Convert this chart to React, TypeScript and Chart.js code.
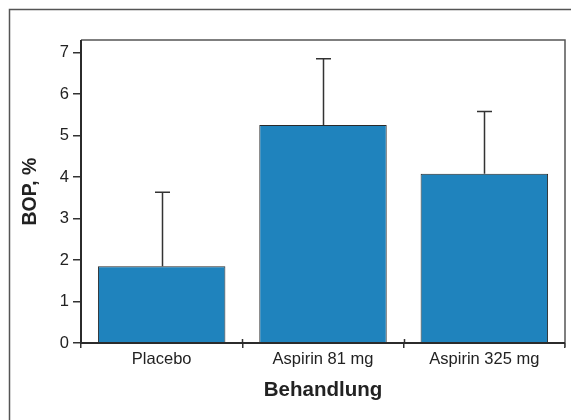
import React, { useEffect, useRef } from 'react';
import { Chart, registerables } from 'chart.js';

Chart.register(...registerables);

const categories = ['Placebo', 'Aspirin 81 mg', 'Aspirin 325 mg'];
const meanValues = [1.85, 5.25, 4.08];
const sdValues = [1.78, 1.6, 1.5];
const yMin = 0;
const yMax = 7.3;
const yStep = 0.5;
const xTitle = 'Behandlung';
const yTitle = 'BOP, %';

const FONT = "'Liberation Sans', Arial, Helvetica, sans-serif";

export default function App() {
  const ref = useRef<HTMLCanvasElement>(null);

  useEffect(() => {
    if (!ref.current) return;

    const frame = {
      id: 'frame',
      beforeDraw(chart: any) {
        const ctx = chart.ctx;
        ctx.save();
        ctx.strokeStyle = '#555';
        ctx.lineWidth = 1.5;
        ctx.strokeRect(9.5, 9.5, 800, 800);
        ctx.restore();
      },
    };

    const errorBars = {
      id: 'errorBars',
      afterDatasetsDraw(chart: any) {
        const ctx = chart.ctx;
        const meta = chart.getDatasetMeta(0);
        const y = chart.scales.y;
        ctx.save();
        ctx.strokeStyle = '#333';
        ctx.lineWidth = 1.5;
        meta.data.forEach((el: any, i: number) => {
          const top = y.getPixelForValue(meanValues[i] + sdValues[i]);
          const x = Math.round(el.x) + 0.5;
          ctx.beginPath();
          ctx.moveTo(x, el.y);
          ctx.lineTo(x, top);
          ctx.moveTo(x - 7.5, top);
          ctx.lineTo(x + 7.5, top);
          ctx.stroke();
        });
        ctx.restore();
      },
    };

    const box = {
      id: 'box',
      afterDraw(chart: any) {
        const ctx = chart.ctx;
        const a = chart.chartArea;
        const y = chart.scales.y;
        const x = chart.scales.x;
        ctx.save();
        // minor y ticks
        ctx.strokeStyle = '#333';
        ctx.lineWidth = 1.5;
        y.ticks.forEach((t: any) => {
          if (!Number.isInteger(t.value)) {
            const py = Math.round(y.getPixelForValue(t.value)) + 0.5;
            ctx.beginPath();
            ctx.moveTo(a.left - 4, py);
            ctx.lineTo(a.left, py);
            ctx.stroke();
          }
        });
        // x ticks above axis at category boundaries
        const n = categories.length;
        for (let i = 1; i < n; i++) {
          const px = Math.round((x.getPixelForValue(i - 1) + x.getPixelForValue(i)) / 2) + 0.5;
          ctx.beginPath();
          ctx.moveTo(px, a.bottom - 4);
          ctx.lineTo(px, a.bottom);
          ctx.stroke();
        }
        // top & right border
        ctx.strokeStyle = '#555';
        ctx.lineWidth = 1.5;
        ctx.beginPath();
        ctx.moveTo(a.left, a.top);
        ctx.lineTo(a.right, a.top);
        ctx.lineTo(a.right, a.bottom + 4);
        ctx.stroke();
        // left & bottom axis lines
        ctx.strokeStyle = '#2b2b2b';
        ctx.lineWidth = 2;
        ctx.beginPath();
        ctx.moveTo(a.left, a.top);
        ctx.lineTo(a.left, a.bottom);
        ctx.lineTo(a.right, a.bottom);
        ctx.stroke();
        ctx.restore();
      },
    };

    const chart = new Chart(ref.current, {
      type: 'bar',
      data: {
        labels: categories,
        datasets: [
          {
            data: meanValues,
            backgroundColor: '#1f83bd',
            borderColor: '#2a2a2a',
            borderWidth: 1,
            categoryPercentage: 1,
            barPercentage: 0.79,
          },
        ],
      },
      options: {
        responsive: false,
        animation: false,
        devicePixelRatio: 1,
        layout: { padding: { left: 9, right: 6, top: 40, bottom: 0 } },
        plugins: {
          legend: { display: false },
          tooltip: { enabled: false },
        },
        scales: {
          x: {
            grid: {
              offset: true,
              drawOnChartArea: false,
              drawTicks: true,
              tickLength: 5,
              color: '#333',
              lineWidth: 1.5,
            },
            border: { display: false },
            ticks: {
              color: '#222',
              padding: 2,
              font: { family: FONT, size: 16.5 },
            },
            title: {
              display: true,
              text: xTitle,
              color: '#222',
              font: { family: FONT, size: 20.5, weight: 'bold' },
              padding: { top: 0, bottom: 17 },
            },
            afterFit(scale: any) {
              scale.height = 77;
            },
          },
          y: {
            min: yMin,
            max: yMax,
            grid: {
              drawOnChartArea: false,
              drawTicks: true,
              tickLength: 8,
              lineWidth: 1.5,
              tickColor: (ctx: any) =>
                ctx.tick && Number.isInteger(ctx.tick.value) ? '#333' : 'rgba(0,0,0,0)',
            },
            border: { display: false },
            ticks: {
              stepSize: yStep,
              includeBounds: false,
              color: '#222',
              padding: 4,
              font: { family: FONT, size: 16.5 },
              callback: (v: any) => (Number.isInteger(v) ? String(v) : ''),
            },
            title: {
              display: true,
              text: yTitle,
              color: '#222',
              font: { family: FONT, size: 19.5, weight: 'bold' },
              padding: { top: 10, bottom: 0 },
            },
            afterFit(scale: any) {
              scale.width = 72;
            },
          },
        },
      },
      plugins: [frame, errorBars, box],
    } as any);

    return () => chart.destroy();
  }, []);

  return (
    <div style={{ position: 'absolute', left: 0, top: 0, width: 571, height: 420, background: '#fff' }}>
      <canvas ref={ref} width={571} height={420} style={{ display: 'block', width: 571, height: 420 }} />
    </div>
  );
}
